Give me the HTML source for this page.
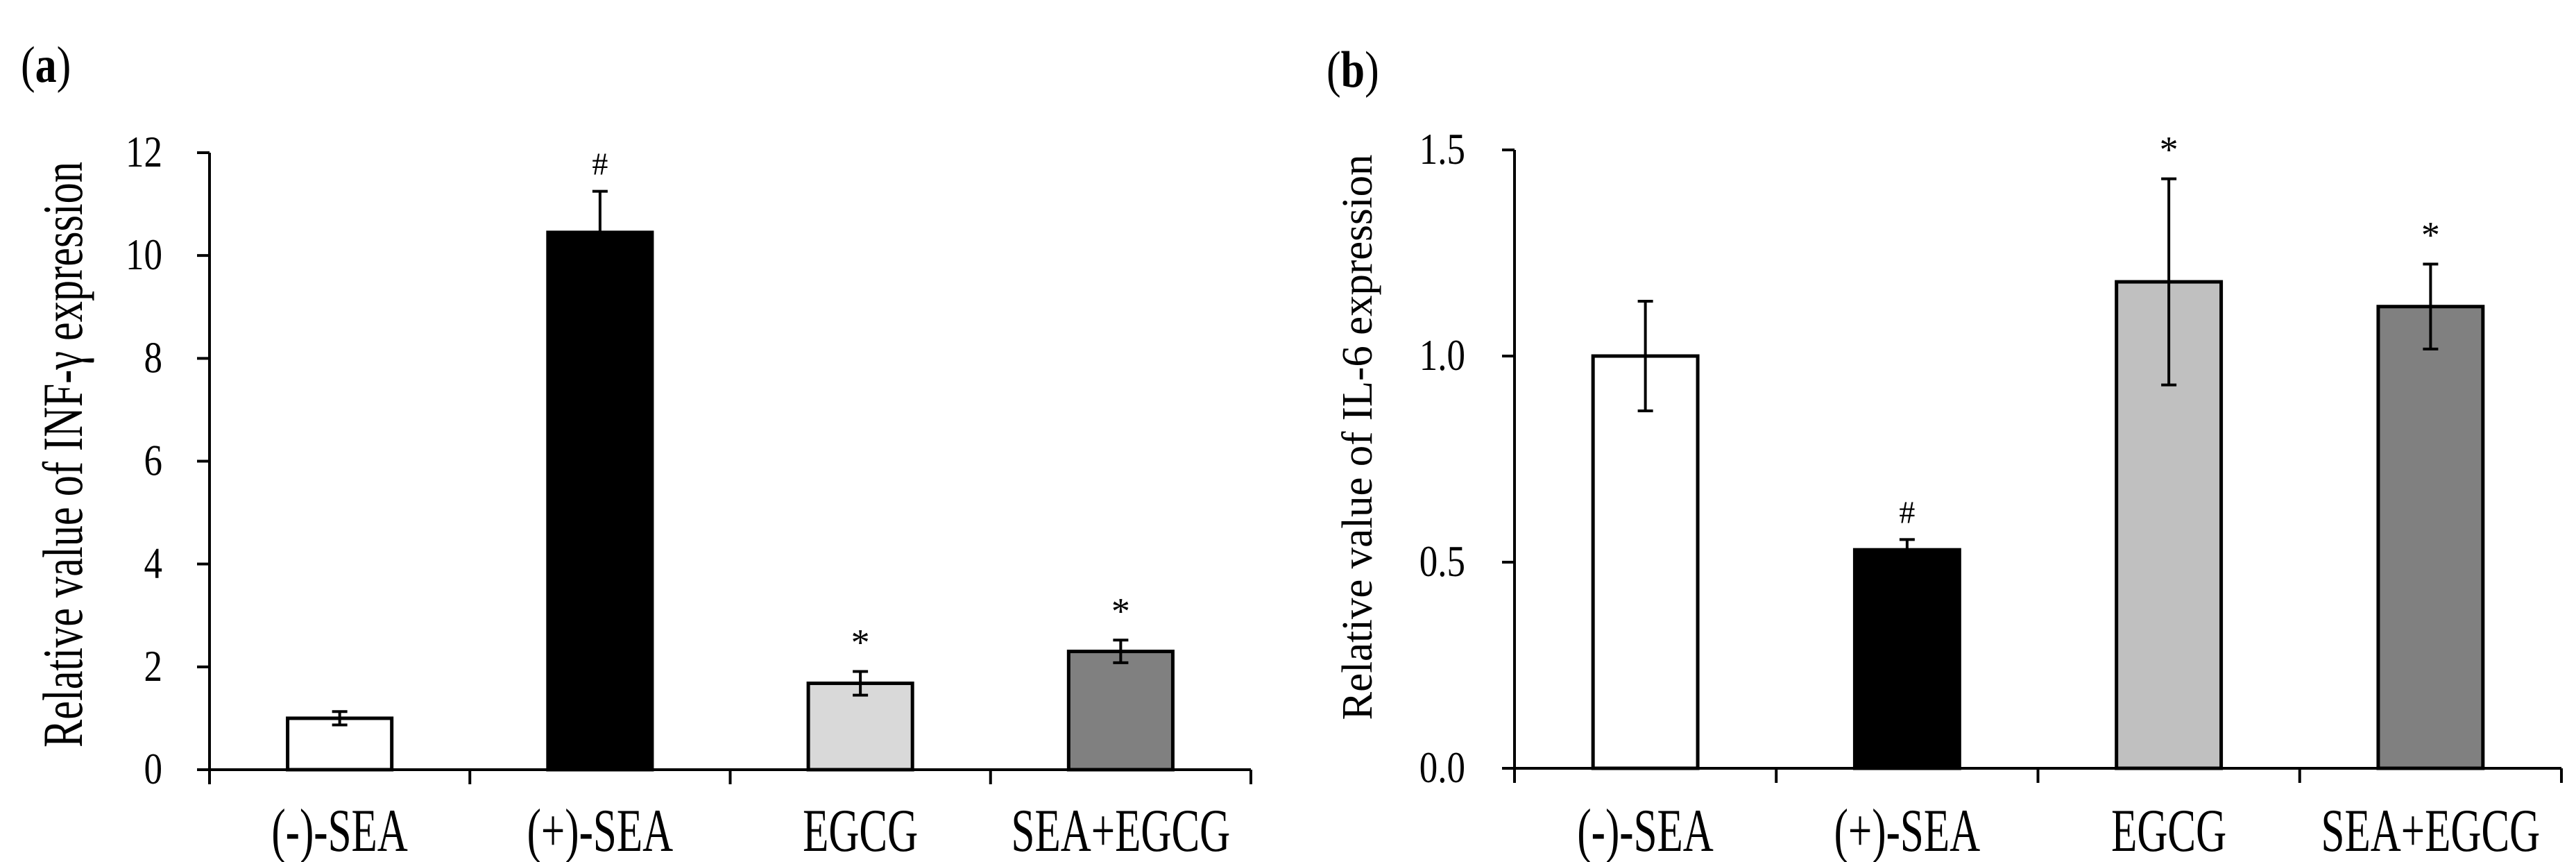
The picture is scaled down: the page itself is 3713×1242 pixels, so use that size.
<!DOCTYPE html>
<html><head><meta charset="utf-8"><style>
html,body{margin:0;padding:0;background:#fff;}
svg{display:block;}
text{font-family:"Liberation Serif",serif;fill:#000;}
</style></head><body>
<svg id="chart" width="3713" height="1242" viewBox="0 0 3713 1242" xmlns="http://www.w3.org/2000/svg">
<text x="30" y="118" font-size="62" transform="translate(30,118) scale(1,1.2) translate(-30,-118)">(<tspan font-weight="bold">a</tspan>)</text>
<text x="1912" y="125" font-size="62" transform="translate(1912,125) scale(1,1.2) translate(-1912,-125)">(<tspan font-weight="bold">b</tspan>)</text>
<g id="pa"></g>
<g id="pb"></g>
</svg>
<script>
const categories = ["(-)-SEA", "(+)-SEA", "EGCG", "SEA+EGCG"];
const fills = ["#ffffff", "#000000", "#d9d9d9", "#808080"];
const fillsB = ["#ffffff", "#000000", "#c0c0c0", "#808080"];
const valuesA = [1.0, 10.45, 1.68, 2.3];
const errorsA = [0.13, 0.8, 0.23, 0.22];
const marksA = ["", "#", "*", "*"];
const ticksA = [0, 2, 4, 6, 8, 10, 12];
const tickLabelsA = ["0", "2", "4", "6", "8", "10", "12"];
const valuesB = [1.0, 0.53, 1.18, 1.12];
const errorsB = [0.133, 0.025, 0.25, 0.103];
const marksB = ["", "#", "*", "*"];
const ticksB = [0, 0.5, 1.0, 1.5];
const tickLabelsB = ["0.0", "0.5", "1.0", "1.5"];

const NS = "http://www.w3.org/2000/svg";
function mk(parent, tag, attrs, txt) {
  const e = document.createElementNS(NS, tag);
  for (const k in attrs) e.setAttribute(k, attrs[k]);
  if (txt !== undefined) e.textContent = txt;
  parent.appendChild(e);
  return e;
}
function stretchText(parent, x, y, size, anchor, s, sy) {
  return mk(parent, "text", {x: x, y: y, "font-size": size, "text-anchor": anchor,
    transform: `translate(${x},${y}) scale(1,${sy}) translate(${-x},${-y})`}, s);
}
function panel(g, x0, x1, yTop, yBot, maxV, vals, errs, marks, ticks, tickLabels, cols, title, titleX, titleSize, titleLen, titleC, labelRight) {
  const yS = v => yBot - (v / maxV) * (yBot - yTop);
  const cw = (x1 - x0) / categories.length;
  const xC = i => x0 + cw * (i + 0.5);
  const bw = cw * 0.4;
  vals.forEach((v, i) => {
    const r = mk(g, "rect", {x: xC(i) - bw / 2, y: yS(v), width: bw, height: yBot - yS(v), fill: cols[i], stroke: "#000", "stroke-width": 5});
    
    
    const eb = mk(g, "path", {d: `M${xC(i)},${yS(v + errs[i])}V${yS(v - errs[i])}M${xC(i) - 11},${yS(v + errs[i])}h22M${xC(i) - 11},${yS(v - errs[i])}h22`, stroke: "#000", "stroke-width": 4, fill: "none"});
    
    
    if (marks[i]) {
      const m = mk(g, "text", {x: xC(i), y: yS(v + errs[i]) - 24, "font-size": marks[i] === "#" ? 46 : 54, "text-anchor": "middle"}, marks[i]);
      
      
    }
  });
  const ax = mk(g, "path", {d: `M${x0},${yTop}V${yBot + 21}M${x0 - 18},${yBot}H${x1}`, stroke: "#000", "stroke-width": 4, fill: "none"});
  
  
  for (let i = 1; i <= categories.length; i++) {
    mk(g, "line", {x1: x0 + cw * i, x2: x0 + cw * i, y1: yBot, y2: yBot + 21, stroke: "#000", "stroke-width": 4});
  }
  ticks.forEach((t, i) => {
    mk(g, "line", {x1: x0 - 18, x2: x0, y1: yS(t), y2: yS(t), stroke: "#000", "stroke-width": 4});
    const tl = stretchText(g, labelRight, yS(t) + 20, 53, "end", tickLabels[i], 1.2);
    
    
  });
  categories.forEach((c, i) => {
    const xl = stretchText(g, xC(i), 1226, 61, "middle", c, 1.45);
    
    
  });
  const tt = mk(g, "text", {x: 0, y: 0, "font-size": titleSize, "text-anchor": "middle", textLength: titleLen, lengthAdjust: "spacingAndGlyphs",
    transform: `translate(${titleX},${titleC}) rotate(-90)`}, title);
  
  
}
panel(document.getElementById("pa"), 302, 1803, 220, 1109, 12, valuesA, errorsA, marksA, ticksA, tickLabelsA, fills, "Relative value of INF-\u03B3 expression", 118, 82, 844, 655, 234);
panel(document.getElementById("pb"), 2183, 3692, 216, 1107, 1.5, valuesB, errorsB, marksB, ticksB, tickLabelsB, fillsB, "Relative value of IL-6 expression", 1977, 62, 815, 630, 2112);
</script>
</body></html>
